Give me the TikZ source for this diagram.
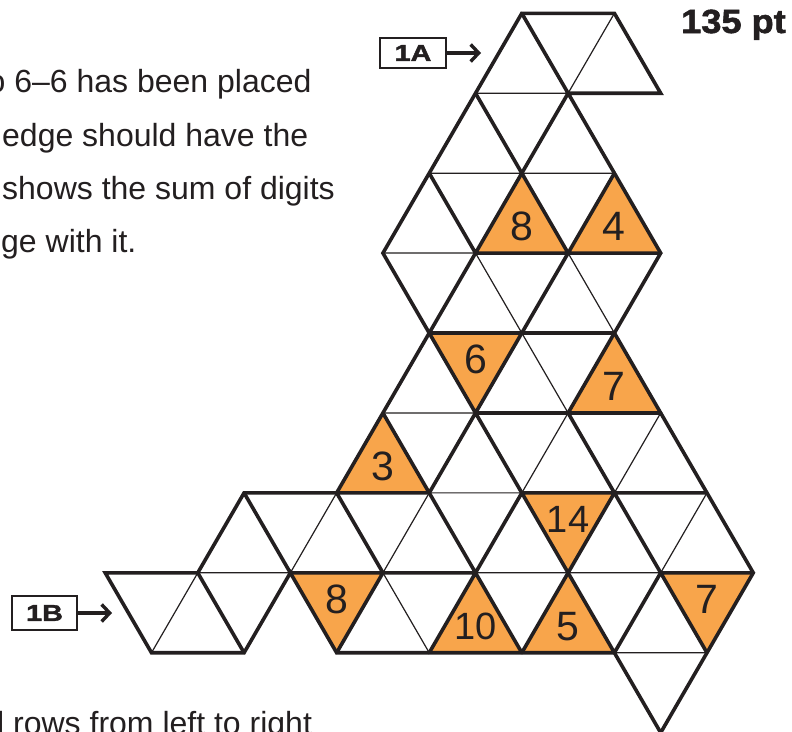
\documentclass[tikz,border=0pt]{standalone}
\usepackage{fontspec}
\setmainfont{Liberation Sans}
\newfontfamily\heavyfont[FakeBold=1.6]{Liberation Sans Bold}
\usetikzlibrary{arrows.meta}
\definecolor{ink}{HTML}{231F20}
\definecolor{orng}{HTML}{F8A54B}
\begin{document}
\begin{tikzpicture}[x=1pt,y=-1pt,
  gridthin/.style={draw=ink,line width=1.2pt,line cap=round},
  gridthick/.style={draw=ink,line width=3.6pt,line cap=round},
  gridouter/.style={draw=ink,line width=3.6pt,line join=miter},
  num/.style={text=ink,font=\fontsize{41}{41}\selectfont,inner sep=0pt},
  numtwo/.style={num,font=\fontsize{38}{38}\selectfont},
  body/.style={text=ink,font=\fontsize{32}{38}\selectfont,inner sep=0pt,anchor=base west},
  tagbox/.style={draw=ink,line width=2.4pt,minimum width=66pt,minimum height=30pt,inner sep=0pt,text=ink,font=\fontsize{23}{23}\heavyfont},
  tagarrow/.style={draw=ink,line width=3.4pt,-{Straight Barb[length=8pt,width=17pt]}}
]
\useasboundingbox (0,0) rectangle (792,731);
\clip (0,0) rectangle (792,731);
\fill[white] (0,0) rectangle (792,731);

\foreach \c in {0,...,14}{\foreach \r in {0,...,9}{\coordinate (v\c-\r) at ({105.2+46.29*\c},{13.3+79.93*\r});}}

% orange cells
\fill[orng] (v9-2)--(v8-3)--(v10-3)--cycle;
\fill[orng] (v11-2)--(v10-3)--(v12-3)--cycle;
\fill[orng] (v7-4)--(v9-4)--(v8-5)--cycle;
\fill[orng] (v11-4)--(v10-5)--(v12-5)--cycle;
\fill[orng] (v6-5)--(v5-6)--(v7-6)--cycle;
\fill[orng] (v9-6)--(v11-6)--(v10-7)--cycle;
\fill[orng] (v4-7)--(v6-7)--(v5-8)--cycle;
\fill[orng] (v8-7)--(v7-8)--(v9-8)--cycle;
\fill[orng] (v10-7)--(v9-8)--(v11-8)--cycle;
\fill[orng] (v12-7)--(v14-7)--(v13-8)--cycle;

% thin edges
\path[gridthin] (v8-1)--(v10-1) (v11-0)--(v10-1) (v7-2)--(v9-2) (v9-2)--(v11-2)
  (v6-3)--(v8-3) (v8-3)--(v9-4) (v10-3)--(v11-4) (v6-5)--(v8-5) (v9-4)--(v10-5)
  (v7-6)--(v9-6) (v10-5)--(v9-6) (v12-5)--(v11-6) (v2-7)--(v4-7) (v5-6)--(v4-7)
  (v7-6)--(v6-7) (v8-7)--(v10-7) (v10-7)--(v12-7) (v13-6)--(v12-7) (v2-7)--(v1-8)
  (v6-7)--(v7-8) (v11-8)--(v13-8);

% thick interior edges
\path[gridthick] (v9-0)--(v10-1) (v8-1)--(v9-2) (v10-1)--(v9-2) (v7-2)--(v8-3)
  (v9-2)--(v8-3) (v9-2)--(v10-3) (v11-2)--(v10-3) (v8-3)--(v12-3)
  (v8-3)--(v7-4) (v10-3)--(v9-4) (v7-4)--(v11-4) (v7-4)--(v8-5) (v9-4)--(v8-5)
  (v11-4)--(v10-5) (v8-5)--(v12-5) (v6-5)--(v7-6) (v8-5)--(v7-6) (v8-5)--(v9-6)
  (v10-5)--(v11-6) (v5-6)--(v7-6) (v9-6)--(v13-6) (v3-6)--(v4-7) (v5-6)--(v6-7)
  (v7-6)--(v8-7) (v9-6)--(v8-7) (v9-6)--(v10-7) (v11-6)--(v10-7) (v11-6)--(v12-7)
  (v4-7)--(v8-7) (v12-7)--(v14-7) (v2-7)--(v3-8) (v6-7)--(v5-8) (v8-7)--(v7-8)
  (v8-7)--(v9-8) (v10-7)--(v9-8) (v10-7)--(v11-8) (v12-7)--(v11-8) (v12-7)--(v13-8);

% outer boundary
\path[gridouter] (v9-0)--(v11-0)--(v12-1)--(v10-1)--(v11-2)--(v12-3)--(v11-4)--(v12-5)
  --(v13-6)--(v14-7)--(v13-8)--(v12-9)--(v11-8)--(v5-8)--(v4-7)--(v3-8)--(v1-8)
  --(v0-7)--(v2-7)--(v3-6)--(v5-6)--(v6-5)--(v7-4)--(v6-3)--(v7-2)--(v8-1)--cycle;

% numbers
\node[num] (n8a) at (barycentric cs:v9-2=1,v8-3=1,v10-3=1) {8};
\node[num] (n4) at (barycentric cs:v11-2=1,v10-3=1,v12-3=1) {4};
\node[num] (n6) at (barycentric cs:v7-4=1,v9-4=1,v8-5=1) {6};
\node[num] (n7a) at (barycentric cs:v11-4=1,v10-5=1,v12-5=1) {7};
\node[num] (n3) at (barycentric cs:v6-5=1,v5-6=1,v7-6=1) {3};
\node[numtwo] (n14) at (barycentric cs:v9-6=1,v11-6=1,v10-7=1) {14};
\node[num] (n8b) at (barycentric cs:v4-7=1,v6-7=1,v5-8=1) {8};
\node[numtwo] (n10) at (barycentric cs:v8-7=1,v7-8=1,v9-8=1) {10};
\node[num] (n5) at (barycentric cs:v10-7=1,v9-8=1,v11-8=1) {5};
\node[num] (n7b) at (barycentric cs:v12-7=1,v14-7=1,v13-8=1) {7};

% text
\node[body] (t1) at (-12.5,92) {o 6–6 has been placed};
\node[body] (t2) at (2,146) {edge should have the};
\node[body] (t3) at (2,199) {shows the sum of digits};
\node[body] (t4) at (1,252) {ge with it.};
\node[body] (t5) at (-3,734) {l rows from left to right};

\node[anchor=base east,inner sep=0pt,text=ink,font=\fontsize{33.5}{34}\heavyfont] (pts) at (786,33) {\scalebox{1.08}[1]{135 pt}};

% tags
\node[tagbox] (b1a) at (413,53) {\scalebox{1.25}[1]{1A}};
\coordinate (a1a) at (481,54);
\draw[tagarrow] (b1a.east) -- (b1a.east -| a1a);
\node[tagbox,minimum width=65pt,minimum height=34pt] (b1b) at (44.5,613) {\scalebox{1.25}[1]{1B}};
\coordinate (a1b) at (112,613);
\draw[tagarrow] (b1b.east) -- (b1b.east -| a1b);
\end{tikzpicture}
\end{document}
